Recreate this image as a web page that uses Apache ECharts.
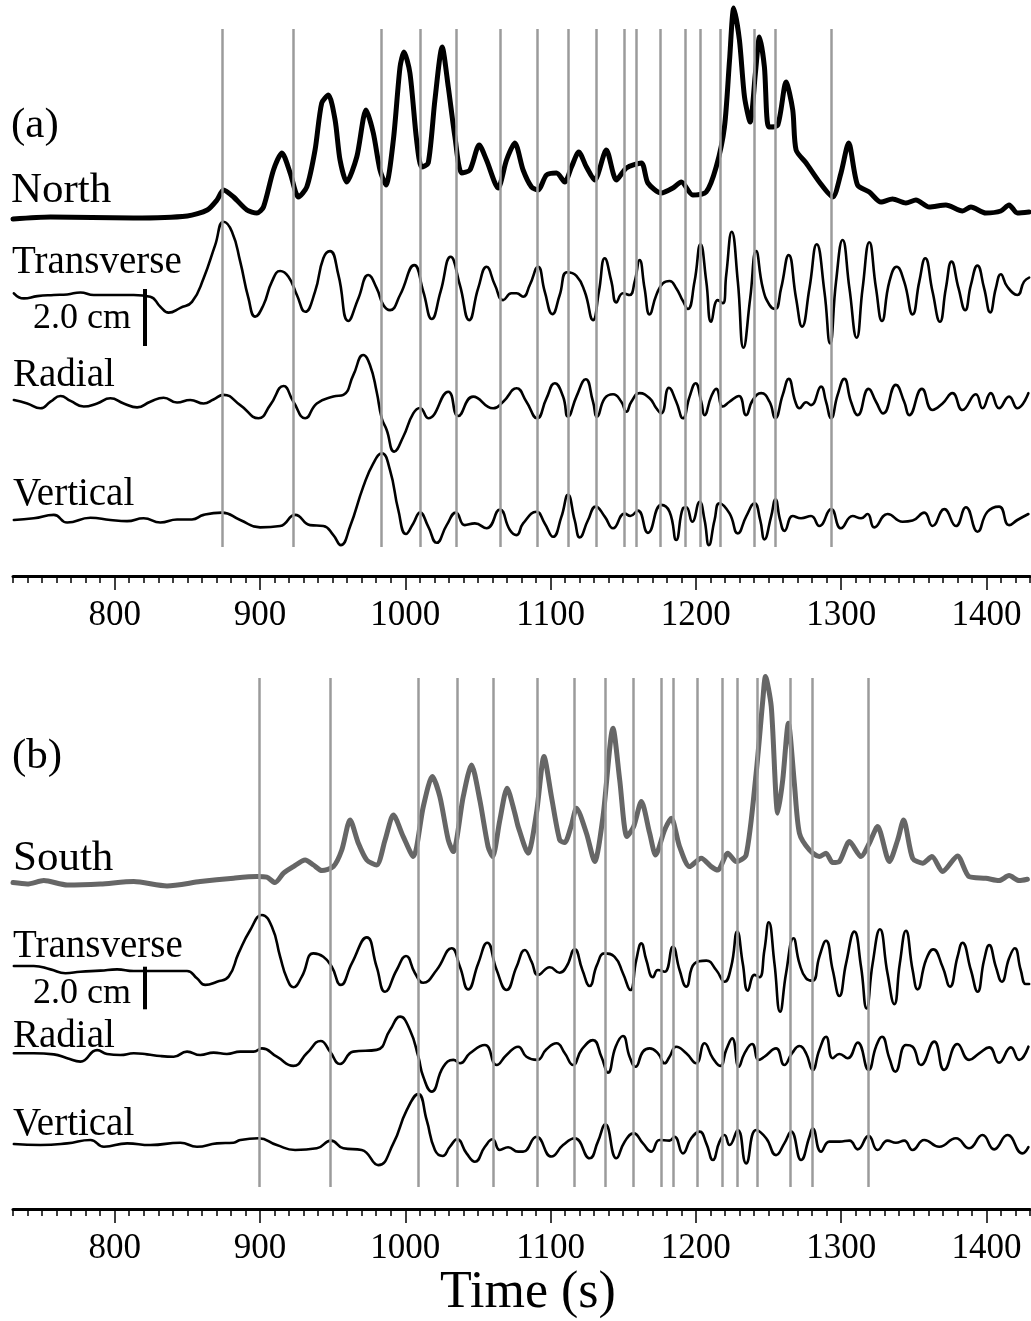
<!DOCTYPE html>
<html>
<head>
<meta charset="utf-8">
<script src="https://cdn.jsdelivr.net/npm/echarts@6/dist/echarts.min.js"></script>
<style>
html, body { margin: 0; padding: 0; background: #fff; }
#chart { width: 1031px; height: 1321px; }
</style>
</head>
<body>
<div id="chart"></div>
<script>
// time axis (s)
var T_MIN = 730, T_MAX = 1430;
var majorTicks = [800, 900, 1000, 1100, 1200, 1300, 1400];

// picked phase times (s)
var linesA = [874.2, 923.0, 983.3, 1010.1, 1034.9, 1065.3, 1091.0, 1112.3, 1131.5, 1150.5, 1159.2, 1175.7, 1192.7, 1202.7, 1217.0, 1239.9, 1254.8, 1293.3];
var linesB = [899.2, 948.5, 1008.9, 1035.5, 1060.5, 1091.0, 1116.6, 1137.5, 1157.2, 1176.2, 1184.7, 1201.2, 1217.9, 1228.2, 1242.6, 1265.3, 1280.2, 1318.9];

// (a) North beam envelope, arbitrary units
var northA = [[730,-0.1],[755.8,0],[812.9,-0.05],[850,0.05],[863.7,0.35],[870.4,0.85],[874.9,1.35],[881.8,1.0],[891,0.35],[897.9,0.2],[902.4,0.5],[909.3,2.35],[915.1,3.2],[920.8,2.2],[926.5,1.0],[932.2,1.5],[937.9,3.35],[942.5,5.7],[947.1,6.1],[951.7,4.85],[955.1,2.85],[959.7,1.75],[966.6,3.0],[973,5.35],[978,4.2],[982.6,2.35],[986.7,1.6],[991.8,3.85],[996.4,7.5],[999.1,8.25],[1003.2,7.2],[1007.8,3.85],[1011.3,2.5],[1015.8,2.7],[1020.4,5.85],[1025.4,8.5],[1029.6,6.5],[1034.2,4.0],[1038.8,2.2],[1044.5,2.35],[1050.9,3.6],[1055.9,2.85],[1063.9,1.45],[1069.7,2.85],[1075.4,3.7],[1081.1,2.35],[1086.9,1.5],[1091.4,1.35],[1097.2,2.1],[1104.1,2.2],[1109.8,1.75],[1114.4,2.5],[1119.4,3.25],[1124.7,2.5],[1130.4,1.85],[1138.4,3.35],[1145.3,1.85],[1152.2,2.45],[1162.5,2.7],[1167,1.7],[1176.2,1.2],[1184.2,1.45],[1190,1.75],[1197.9,1.1],[1207.1,1.25],[1214,2.5],[1219.7,4.5],[1223.2,7.85],[1226.1,10.45],[1230,8.85],[1233.5,6.0],[1237.4,4.75],[1241,7.2],[1243.8,9.0],[1247.2,7.5],[1250.2,4.5],[1256.4,4.6],[1262.1,6.75],[1266.7,5.35],[1269,3.35],[1275.9,2.7],[1285,1.75],[1294.2,1.0],[1299.9,2.2],[1305.2,3.7],[1311.3,1.6],[1319.4,1.25],[1327.4,0.75],[1335.4,0.9],[1344.6,0.7],[1351.5,0.85],[1360.6,0.5],[1372.1,0.6],[1383.5,0.3],[1389.3,0.5],[1399.6,0.2],[1409.9,0.3],[1415.6,0.6],[1421.3,0.2],[1429.3,0.25]];

// (a) displacement, cm
var transA = [[730.6,0.06],[737.5,-0.12],[746.7,-0.04],[758.1,0],[767.3,0.02],[776.4,0.09],[785.6,0],[797,0],[813.1,0],[824.5,-0.06],[831.4,-0.41],[837.1,-0.62],[845.2,-0.45],[853.2,-0.24],[861.2,0.59],[869.2,1.76],[874.9,2.57],[880.7,2.22],[886.4,1.17],[892.1,-0.12],[896.7,-0.76],[902.4,-0.35],[908.2,0.47],[913.9,0.84],[919.6,0.64],[925.4,0],[931.1,-0.59],[937.9,0.12],[943.6,1.29],[948.2,1.54],[954,0.7],[960.8,-0.91],[967.7,-0.12],[974.6,0.7],[980.3,0.24],[984.9,-0.35],[989.5,-0.53],[996.4,0],[1006.2,1.05],[1012.4,0.12],[1018.2,-0.84],[1024.3,0.12],[1031.2,1.34],[1037.6,0.35],[1044,-0.88],[1050.2,0.24],[1056,0.99],[1061.7,0.35],[1067.4,-0.18],[1073.1,0.06],[1076.6,0.06],[1081.1,-0.06],[1085.7,0.35],[1091.4,0.99],[1096,0.12],[1101.3,-0.67],[1106.3,0],[1111.3,0.8],[1117.8,0.67],[1123.5,0.12],[1129.2,-0.88],[1133.3,0.12],[1137.3,1.29],[1141.9,0.47],[1145.3,-0.26],[1149.8,0.06],[1154.4,0],[1157.9,0.47],[1161.3,1.23],[1164.7,0.24],[1168.2,-0.68],[1172.8,0],[1177.3,0.41],[1181.9,0.49],[1186.5,0.24],[1191.1,-0.21],[1194.5,-0.49],[1199.1,0.47],[1203.2,1.78],[1207.2,0.47],[1210.6,-0.94],[1215.1,-0.18],[1218.6,-0.29],[1220.9,0.7],[1224.7,2.22],[1228.9,0.47],[1232.8,-1.85],[1237.4,-0.12],[1241.5,1.54],[1246.1,0.24],[1250.7,-0.35],[1254.6,-0.49],[1258.7,0.24],[1263.9,1.4],[1269,-0.12],[1273.1,-1.11],[1278.2,0.24],[1283.2,1.78],[1288.5,0.12],[1292.4,-1.7],[1296.5,0.47],[1301,1.93],[1305.7,0.24],[1310.7,-1.5],[1314.8,0.24],[1319.4,1.85],[1324,0.24],[1328.1,-0.91],[1333.2,0.47],[1338.2,0.99],[1343.4,0.47],[1349.2,-0.68],[1353.8,0.47],[1357.9,1.29],[1362.9,0.12],[1368,-0.94],[1372.1,0.24],[1376,1.17],[1380.8,0.24],[1385.4,-0.53],[1389.3,0.35],[1393.8,1.03],[1398.4,0.24],[1402.6,-0.61],[1406.5,0.24],[1409.9,0.73],[1414.4,0.29],[1421.3,0],[1425.9,0.47],[1429.4,0.61]];
var radialA = [[730.6,0.07],[739.8,-0.05],[748.9,-0.22],[755.8,0.01],[762.7,0.21],[769.6,0.04],[778.7,-0.16],[787.9,-0.05],[797,0.13],[806.2,-0.05],[815.4,-0.19],[824.5,0.01],[833.7,0.15],[842.9,-0.02],[852,0.07],[861.2,-0.05],[868,0.09],[874.9,0.25],[886.4,-0.11],[899,-0.57],[907,-0.11],[916.2,0.56],[923,0.01],[931.1,-0.57],[939.1,-0.05],[950.5,0.19],[957.4,0.25],[964.3,0.95],[971.1,1.65],[975.7,1.3],[980.3,0.36],[983.8,-0.57],[987.2,-0.98],[992.4,-1.74],[998.6,-1.22],[1005.5,-0.4],[1010.1,-0.21],[1015.8,-0.57],[1029.6,0.36],[1036.4,-0.49],[1046.7,0.19],[1060.5,-0.22],[1067.4,0.01],[1076.6,0.48],[1083.4,0.01],[1090.7,-0.57],[1097.2,0.13],[1102.9,0.66],[1108.6,0.19],[1112,-0.52],[1117.8,0.19],[1124.2,0.8],[1129.2,0.01],[1132,-0.52],[1137.3,0.13],[1143,0.27],[1148.7,0.01],[1152.2,-0.34],[1155.6,0.01],[1161.3,0.31],[1168.2,0.13],[1172.8,-0.22],[1176.2,-0.4],[1181.5,0.5],[1186.5,0.01],[1191.1,-0.57],[1195.7,0.19],[1199.8,0.66],[1203.7,0.01],[1206,-0.46],[1210.6,0.19],[1214,0.46],[1218.6,-0.16],[1223.2,0.01],[1229.6,0.21],[1234.6,-0.46],[1239.2,0.07],[1245,0.31],[1250.7,0.01],[1254.6,-0.57],[1259.8,0.25],[1263.9,0.81],[1268.5,0.01],[1271.3,-0.22],[1275.9,-0.01],[1279.3,-0.11],[1286.2,0.54],[1289.6,0.01],[1293.1,-0.57],[1297.6,0.25],[1302.2,0.81],[1306.8,0.01],[1311.4,-0.46],[1318.9,0.46],[1324,0.01],[1329,-0.4],[1337.7,0.6],[1343.4,0.01],[1346.9,-0.46],[1355.6,0.46],[1362.9,-0.28],[1369.8,-0.05],[1376.6,0.31],[1383.5,-0.28],[1392.7,0.27],[1397.3,-0.22],[1403,0.31],[1408.7,-0.22],[1415.6,0.19],[1421.3,-0.22],[1428.9,0.31]];
var vertA = [[730.6,0],[744.3,0.06],[758.1,0.18],[767.3,-0.09],[783.3,0.08],[797,0],[808.5,-0.04],[819.9,0.06],[831.4,-0.09],[842.9,0.02],[853.2,0.02],[861.2,0.18],[873.8,0.26],[886.4,0],[900.1,-0.26],[913.9,-0.21],[924.2,0.18],[934.5,-0.18],[943.6,-0.21],[950.5,-0.53],[955.6,-0.88],[962,-0.23],[971.1,1.17],[978,1.99],[983.8,2.34],[989.5,1.75],[995.2,0.35],[1000.5,-0.49],[1005.5,-0.12],[1010.1,0.26],[1015.8,-0.23],[1021.6,-0.8],[1028.5,-0.18],[1034.9,0.26],[1041,-0.18],[1047.9,-0.12],[1056,-0.29],[1065.1,0.37],[1072,-0.35],[1076.6,-0.53],[1081.1,-0.12],[1090.3,0.29],[1096,-0.12],[1101.7,-0.59],[1107.5,0.12],[1112,0.88],[1116.6,0],[1120.1,-0.61],[1125.8,0],[1131.1,0.47],[1137.3,0.12],[1143,-0.29],[1151,0.23],[1154.9,0.14],[1160.1,0.33],[1167,-0.45],[1176.2,0.53],[1181.9,0.29],[1186.5,-0.7],[1191.1,0.41],[1193.4,0.45],[1197.5,-0.06],[1202.6,0.64],[1206,0],[1209,-0.88],[1212.9,0],[1216.3,0.59],[1223.2,0.23],[1228.9,-0.47],[1234.6,0.12],[1240.4,0.59],[1244.3,0],[1247.2,-0.68],[1251.8,0.12],[1254.8,0.73],[1258,0],[1261,-0.38],[1266.7,0.14],[1272.4,0.06],[1279.3,0.14],[1285,-0.21],[1293.1,0.38],[1299.9,-0.29],[1307.9,0.14],[1313.7,0.06],[1318.2,0.21],[1322.8,-0.26],[1332,0.21],[1342.3,-0.06],[1349.2,-0.02],[1357.2,0.26],[1362.9,-0.21],[1371,0.38],[1379,-0.21],[1385.9,0.45],[1393.9,-0.41],[1400.7,0.29],[1408.7,0.47],[1415.6,-0.18],[1421.3,0],[1428.9,0.21]];

// (b) South beam envelope, arbitrary units
var southB = [[730,0.02],[739.8,-0.05],[751.2,0.12],[767.3,-0.1],[790.2,-0.05],[813.1,0.07],[836,-0.15],[858.9,0.07],[881.8,0.24],[897.9,0.32],[904.7,0.29],[910.4,0.02],[916.2,0.49],[923,0.82],[931.1,1.15],[936.8,0.9],[942.6,0.62],[950.5,0.82],[956.3,1.65],[962,3.15],[967.7,1.99],[973.5,1.15],[980.3,0.9],[986.1,2.15],[991.8,3.4],[998.6,2.32],[1005.5,1.32],[1012.4,3.82],[1018.6,5.32],[1023.8,4.32],[1029.6,2.15],[1033,1.57],[1039.9,4.32],[1045.6,5.9],[1051.3,4.15],[1057,1.82],[1060.1,1.32],[1065.1,3.15],[1070.1,4.74],[1075.4,3.49],[1077.7,2.82],[1084.5,1.49],[1090.3,3.49],[1095.5,6.32],[1100.6,4.32],[1106.3,2.15],[1109.7,2.02],[1114.4,2.9],[1117.8,3.74],[1124.7,2.49],[1130.4,1.07],[1136.1,3.32],[1143,7.74],[1147.6,5.15],[1152.6,2.32],[1157.2,2.82],[1162.5,4.07],[1168.2,2.49],[1172.3,1.4],[1178.5,2.65],[1183.1,3.24],[1188.8,1.82],[1195.7,0.82],[1203.7,1.24],[1210.6,0.82],[1215.1,0.65],[1222,1.49],[1227.8,1.07],[1234.6,1.4],[1241.5,5.49],[1246.1,9.15],[1247.9,10.32],[1251.9,8.82],[1256.4,3.49],[1259.8,5.15],[1263.7,7.99],[1267.8,4.99],[1271.3,2.49],[1278.2,1.65],[1285,1.32],[1289.6,1.49],[1294.2,1.02],[1298.8,1.07],[1305.7,2.07],[1313.7,1.32],[1319.4,1.99],[1325.1,2.82],[1333.2,1.07],[1338.9,2.15],[1343,3.15],[1349.2,1.24],[1356.1,0.99],[1362.5,1.32],[1369.8,0.57],[1380.1,1.35],[1388.1,0.32],[1399.6,0.24],[1408.7,0.12],[1415.6,0.37],[1422.5,0.12],[1428.2,0.19]];

// (b) displacement, cm
var transB = [[730.6,0.19],[744.3,0.19],[755.8,0.03],[766.1,-0.15],[776.4,-0.08],[790.2,-0.03],[801.6,0.03],[813.1,-0.05],[829.1,-0.05],[849.8,-0.05],[856.6,-0.39],[862.3,-0.7],[870.4,-0.55],[878.4,-0.31],[885.2,0.78],[893.3,1.88],[901.3,2.58],[908.2,2.03],[913.9,0.62],[918.5,-0.39],[923,-0.81],[928.8,-0.31],[936.8,0.78],[943.6,0.62],[949.4,0.15],[955.6,-0.7],[963.2,0.31],[973.5,1.53],[980.3,0.15],[986.1,-1.02],[994.1,0],[1000.5,0.66],[1006.7,-0.15],[1012.4,-0.6],[1021.6,0],[1031.9,1.02],[1037.6,0.15],[1043.3,-0.91],[1050.2,0.31],[1056.4,1.28],[1062.9,0],[1069.7,-0.94],[1076.6,0.15],[1082.3,0.94],[1086.9,0.39],[1091.4,-0.23],[1099.5,0.13],[1106.3,-0.13],[1110.9,0.15],[1116.6,0.97],[1121.9,0],[1126.9,-0.75],[1131.9,0.23],[1137.3,0.78],[1144.1,0.62],[1149.8,-0.15],[1154.9,-0.94],[1159,0.47],[1162.5,1.25],[1165.9,0.47],[1170.5,-0.34],[1173.9,0],[1178.5,-0.08],[1184.2,1.09],[1188.8,0],[1193.4,-0.78],[1199.1,0.31],[1207.2,0.44],[1214,0],[1219.7,-0.55],[1224.3,0.15],[1228.5,1.8],[1232.3,0.31],[1235.8,-0.97],[1240.4,-0.23],[1243.8,-0.34],[1247.2,0.94],[1250.2,2.24],[1254.1,0.31],[1258,-1.96],[1262.1,-0.15],[1267.2,1.49],[1271.3,0.31],[1275.9,-0.39],[1280.4,-0.5],[1285,0.62],[1289.6,1.37],[1294.2,0],[1298.8,-1.22],[1303.4,0.31],[1309.1,1.8],[1313.7,0.15],[1317.5,-1.8],[1321.7,0.31],[1326.7,1.91],[1331.9,-0.15],[1336.6,-1.6],[1340.4,0.31],[1344.6,1.84],[1349.2,0],[1352.6,-0.91],[1358.4,0.47],[1363.4,0.97],[1369.8,0.15],[1374.9,-0.78],[1380.1,0.62],[1383.5,1.28],[1389.3,0],[1393.9,-1.02],[1398.4,0.47],[1401.9,1.17],[1406.5,0.15],[1410.6,-0.55],[1415.6,0.55],[1419.5,1.02],[1423.6,0],[1427.1,-0.66],[1429.4,-0.66]];
var radialB = [[730.6,0],[744.3,0],[758.1,-0.05],[767.3,-0.23],[776.4,-0.39],[787.9,0.15],[794.7,-0.03],[803.9,-0.08],[813.1,0],[822.3,-0.05],[831.4,-0.13],[840.6,-0.16],[849.8,0.08],[858.9,-0.08],[868.1,0.03],[877.2,-0.03],[886.4,0.08],[895.6,0.08],[901.3,0.23],[911.6,-0.16],[923,-0.59],[932.2,0],[941.8,0.58],[948.2,0.08],[955.1,-0.5],[964.2,0.08],[980.3,0.16],[989.5,1.09],[996.4,1.72],[1003.2,1.09],[1009,-0.16],[1012.4,-1.1],[1018.2,-1.8],[1026.2,-0.63],[1033.1,-0.31],[1037.7,-0.47],[1044.5,0],[1054.8,0.39],[1062.9,-0.55],[1069.7,-0.08],[1077.7,0.31],[1083.4,-0.16],[1090.7,-0.31],[1097.2,0.19],[1104.1,0.47],[1109.8,0],[1115.5,-0.55],[1121.3,0.16],[1129.2,0.62],[1135,-0.16],[1139.5,-0.91],[1144.8,0.31],[1149.8,0.81],[1154.4,-0.16],[1158.5,-0.63],[1163.6,0.08],[1168.2,0.23],[1173.9,0],[1178.5,-0.47],[1181.9,-0.16],[1186.5,0.31],[1193.4,0],[1200.2,-0.47],[1206,0.47],[1211.7,-0.23],[1216.8,-0.59],[1220.9,0.16],[1225,0.7],[1229.6,-0.63],[1233.5,0],[1238.7,0.44],[1243.3,-0.31],[1247.2,-0.16],[1255.2,0.23],[1260.9,-0.55],[1266.2,0],[1271.3,0.34],[1275.9,0],[1280.4,-0.78],[1285,0.16],[1289.6,0.78],[1294.2,-0.23],[1298.8,-0.03],[1304.5,-0.23],[1311.4,0.5],[1318.9,-0.78],[1324,0.31],[1328.1,0.78],[1333.2,-0.23],[1337.3,-0.86],[1344.6,0.39],[1349.2,0.31],[1354.9,-0.55],[1364.1,0.55],[1370.9,-0.78],[1380.1,0.44],[1388.1,-0.31],[1395,0],[1401.9,0.28],[1408.7,-0.44],[1416.8,0.28],[1422.5,-0.31],[1428.9,0.31]];
var vertB = [[730.6,0],[748.9,-0.05],[767.3,0.03],[783.3,0.19],[792.6,-0.13],[808.6,0.03],[824.5,-0.05],[845.2,0.06],[856.6,-0.13],[870.4,0.03],[881.8,0.06],[886.4,0.19],[899,0.27],[911.6,-0.05],[924.2,-0.28],[939.1,-0.2],[948.9,0.16],[957.4,-0.2],[970,-0.28],[981.4,-0.99],[991.8,0.03],[1001,1.59],[1008.9,2.34],[1014.7,1.13],[1020.4,-0.28],[1025.7,-0.56],[1030.7,-0.13],[1035.7,0.22],[1042.2,-0.44],[1047.9,-0.83],[1054.8,-0.13],[1060.1,0.22],[1065.1,-0.28],[1070.8,-0.15],[1077.7,-0.36],[1081.1,-0.36],[1090.3,0.34],[1100.6,-0.59],[1108.6,-0.05],[1116.6,0.27],[1126.9,-0.67],[1132.6,0.11],[1137.7,0.92],[1145.3,-0.67],[1151,0.11],[1157.2,0.5],[1163.6,0.03],[1169.3,-0.36],[1175,0.19],[1181.9,0.16],[1185.3,0.34],[1191.1,-0.44],[1196.8,0.27],[1202.6,0.58],[1207.2,0.03],[1211.7,-0.75],[1216.3,0.11],[1219.7,0.42],[1223.2,-0.05],[1228.9,0.66],[1234.6,-0.91],[1241.5,0.66],[1248.4,0.27],[1255.2,-0.52],[1260.9,0.03],[1265.6,0.58],[1272.4,-0.75],[1278.2,0.34],[1280.4,0.73],[1286.2,-0.36],[1291.9,0.11],[1298.8,0.11],[1305.7,0.16],[1311.4,-0.25],[1318.9,0.38],[1325.1,-0.28],[1332,0.16],[1337.7,0.06],[1343.4,0.16],[1349.2,-0.28],[1357.2,0.19],[1367.5,-0.13],[1379,0.27],[1388.1,-0.2],[1397.3,0.42],[1405.3,-0.25],[1414.5,0.42],[1424.8,-0.44],[1428.9,-0.15]];

var scaleBarCm = 2.0;

var chart = echarts.init(document.getElementById('chart'));
var FONT = 'Liberation Serif';

// panel layout (y in panel pixels, downward)
var PA = { top: 0, h: 576, env: 217, tr: 295, ra: 402, ve: 520, cm: 28.5, envPx: 20, lineTop: 29, lineBot: 547, barTop: 289, barT: 821 };
var PB = { top: 640, h: 569, env: 243, tr: 330, ra: 413.3, ve: 504, cm: 21.3, envPx: 20, lineTop: 38, lineBot: 547, barTop: 326.7, barT: 820.4 };

function place(pts, base, scale) {
    return pts.map(function (p) { return [p[0], base - p[1] * scale]; });
}

function trace(pts, base, scale, xi, yi, color, width, smooth) {
    return {
        type: 'line', xAxisIndex: xi, yAxisIndex: yi,
        data: place(pts, base, scale),
        showSymbol: false, smooth: smooth, clip: false, silent: true, z: 3,
        lineStyle: { color: color, width: width, join: 'round', cap: 'round' }
    };
}

function guides(lines, P, xi, yi) {
    return {
        type: 'line', xAxisIndex: xi, yAxisIndex: yi, data: [], z: 1, silent: true,
        markLine: {
            silent: true, symbol: ['none', 'none'], animation: false,
            label: { show: false },
            lineStyle: { color: '#9b9b9b', width: 2.5, type: 'solid' },
            data: lines.map(function (t) { return [{ coord: [t, P.lineTop] }, { coord: [t, P.lineBot] }]; })
        }
    };
}

function bar(P, xi, yi) {
    return {
        type: 'line', xAxisIndex: xi, yAxisIndex: yi, data: [], z: 4, silent: true,
        markLine: {
            silent: true, symbol: ['none', 'none'], animation: false,
            label: { show: false },
            lineStyle: { color: '#000', width: 4, type: 'solid' },
            data: [[{ coord: [P.barT, P.barTop] }, { coord: [P.barT, P.barTop + scaleBarCm * P.cm] }]]
        }
    };
}

var minorTicks = [];
for (var t = T_MIN; t <= T_MAX; t += 10) minorTicks.push(t);

function axes(gi) {
    return [{
        type: 'value', gridIndex: gi, min: T_MIN, max: T_MAX, position: 'bottom',
        axisLine: { show: true, onZero: false, lineStyle: { color: '#000', width: 3 } },
        axisTick: { show: true, length: 7, customValues: minorTicks, lineStyle: { color: '#000', width: 1.5 } },
        axisLabel: { show: false }, splitLine: { show: false }
    }, {
        type: 'value', gridIndex: gi, min: T_MIN, max: T_MAX, position: 'bottom',
        axisLine: { show: false, onZero: false },
        axisTick: { show: true, length: 14, customValues: majorTicks, lineStyle: { color: '#000', width: 1.5 } },
        axisLabel: {
            show: true, customValues: majorTicks, margin: 22, color: '#000', fontSize: 35, fontFamily: FONT,
            formatter: function (v) { return String(v); }
        },
        splitLine: { show: false }
    }];
}

function label(text, x, y, size, align) {
    return { type: 'text', x: x, y: y, silent: true,
        style: { text: text, fill: '#000', font: size + 'px "' + FONT + '"', align: align || 'left', verticalAlign: 'middle' } };
}

var option = {
    backgroundColor: '#fff',
    animation: false,
    grid: [
        { left: 13, right: 1, top: PA.top, height: PA.h },
        { left: 13, right: 1, top: PB.top, height: PB.h }
    ],
    xAxis: axes(0).concat(axes(1)),
    yAxis: [
        { type: 'value', gridIndex: 0, min: 0, max: PA.h, inverse: true, show: false },
        { type: 'value', gridIndex: 1, min: 0, max: PB.h, inverse: true, show: false }
    ],
    series: [
        guides(linesA, PA, 0, 0),
        trace(northA, PA.env, PA.envPx, 0, 0, '#000', 5, 0.25),
        trace(transA, PA.tr, PA.cm, 0, 0, '#000', 2.6, 0.5),
        trace(radialA, PA.ra, PA.cm, 0, 0, '#000', 2.6, 0.5),
        trace(vertA, PA.ve, PA.cm, 0, 0, '#000', 2.6, 0.5),
        bar(PA, 0, 0),
        guides(linesB, PB, 2, 1),
        trace(southB, PB.env, PB.envPx, 2, 1, '#666', 5, 0.25),
        trace(transB, PB.tr, PB.cm, 2, 1, '#000', 2.6, 0.5),
        trace(radialB, PB.ra, PB.cm, 2, 1, '#000', 2.6, 0.5),
        trace(vertB, PB.ve, PB.cm, 2, 1, '#000', 2.6, 0.5),
        bar(PB, 2, 1)
    ],
    graphic: [
        label('(a)', 11, 126, 43),
        label('North', 11, 191, 43),
        label('Transverse', 12, 263, 39),
        label('2.0 cm', 33, 319, 36),
        label('Radial', 13, 376, 39),
        label('Vertical', 13, 495, 39),
        label('(b)', 12, 757, 43),
        label('South', 13, 859, 43),
        label('Transverse', 13, 947, 39),
        label('2.0 cm', 33, 994, 36),
        label('Radial', 13, 1037, 39),
        label('Vertical', 13, 1125, 39),
        label('Time (s)', 528, 1293, 52, 'center')
    ]
};
chart.setOption(option);

window.onresize = function () { chart.resize(); };
</script>
</body>
</html>
